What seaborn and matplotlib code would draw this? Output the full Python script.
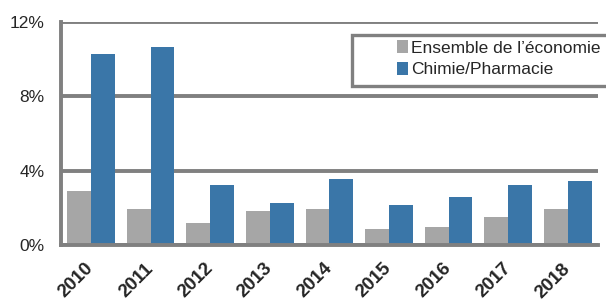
import pandas as pd
import numpy as np
import matplotlib
matplotlib.use("Agg")
import matplotlib.pyplot as plt
import seaborn as sns
from matplotlib.ticker import FuncFormatter
from matplotlib.patches import Rectangle

years = ["2010", "2011", "2012", "2013", "2014", "2015", "2016", "2017", "2018"]
economie = [2.9, 1.95, 1.2, 1.85, 1.95, 0.87, 0.97, 1.52, 1.95]
chimie = [10.25, 10.67, 3.25, 2.28, 3.55, 2.17, 2.6, 3.25, 3.45]
series_names = ["Ensemble de l\u2019économie", "Chimie/Pharmacie"]

df = pd.DataFrame({
    "year": years * 2,
    "value": economie + chimie,
    "serie": [series_names[0]] * len(years) + [series_names[1]] * len(years),
})

sns.set_style("white")
plt.rcParams["font.family"] = ["Liberation Sans", "DejaVu Sans"]
grid_col = "#808080"

fig, ax = plt.subplots(figsize=(6.06, 3.0), dpi=100)
fig.subplots_adjust(left=0.101, right=0.986, top=0.927, bottom=0.183)

sns.barplot(data=df, x="year", y="value", hue="serie", palette=["#A6A6A6", "#3A76A8"],
            width=0.8, saturation=1, linewidth=0, ax=ax, zorder=3)

ax.set_ylim(0, 12)
ax.set_xlim(-0.5, len(years) - 0.5)
ax.set_yticks([0, 4, 8, 12])
ax.yaxis.set_major_formatter(FuncFormatter(lambda v, p: f"{v:.0f}%"))
ax.grid(axis="y", color=grid_col, linewidth=2.8, zorder=1)
ax.set_axisbelow(True)
ax.set_xlabel("")
ax.set_ylabel("")

for s in ["top", "right"]:
    ax.spines[s].set_visible(False)
for s in ["left", "bottom"]:
    ax.spines[s].set_color(grid_col)
    ax.spines[s].set_linewidth(2.8)
    ax.spines[s].set_zorder(4)

# ticks between categories on x
ax.set_xticks(np.arange(len(years)))
ax.set_xticks(np.arange(len(years) + 1) - 0.5, minor=True)
ax.tick_params(axis="x", which="major", length=0, pad=15)
ax.tick_params(axis="x", which="minor", length=5, width=2.5, color=grid_col)
ax.tick_params(axis="y", length=5, width=2.5, color=grid_col, labelsize=12.5, pad=7)
for lbl in ax.get_xticklabels():
    lbl.set_rotation(45)
    lbl.set_fontweight("bold")
    lbl.set_fontsize(13.5)
    lbl.set_ha("right")
    lbl.set_va("center")
    lbl.set_rotation_mode("anchor")

handles, labels = ax.get_legend_handles_labels()
leg = ax.legend(handles, labels, loc="upper left",
                bbox_to_anchor=(394 / 606, 1 - 37 / 300), bbox_transform=fig.transFigure,
                frameon=False, fontsize=12.5, handlelength=0.6,
                handleheight=0.75, handletextpad=0.2, borderpad=0.2,
                labelspacing=0.35, borderaxespad=0)
leg.set_zorder(6)

# legend box, wider than its entries as in the original
box = Rectangle((352 / 606, 1 - 86 / 300), 258 / 606, 51 / 300, transform=fig.transFigure,
                facecolor="white", edgecolor=grid_col, linewidth=2.4, zorder=5)
fig.add_artist(box)
fig.add_artist(leg)

fig.savefig("out.png", dpi=100)
